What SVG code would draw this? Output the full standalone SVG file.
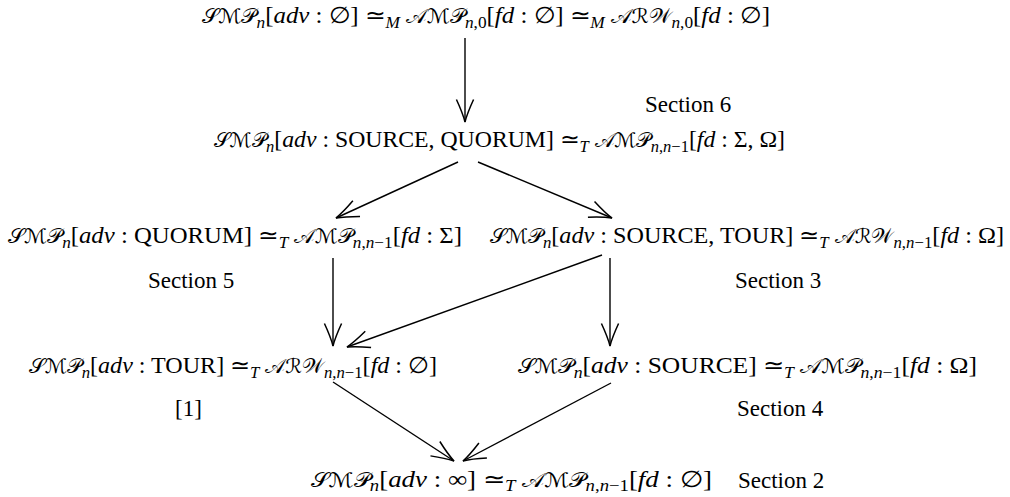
<svg xmlns="http://www.w3.org/2000/svg" width="1010" height="497" viewBox="0 0 1010 497">
<style>
.t{font-family:"Liberation Serif","Times New Roman",serif;font-size:23px;fill:#000}
.m{font-style:italic}
.c{font-family:"DejaVu Serif","DejaVu Sans",serif;font-style:normal;font-size:20px}
.s{font-size:16px}
.e{stroke:#000;stroke-width:1.4;fill:none}
</style>
<defs>
<marker id="ah" markerUnits="userSpaceOnUse" markerWidth="30" markerHeight="30" viewBox="-24 -12 28 24" refX="0" refY="0" orient="auto" overflow="visible">
<path d="M-21,-8 Q-8,-2 0,0 Q-8,2 -21,8" stroke="#000" stroke-width="1.4" fill="none"/>
</marker>
</defs>
<rect width="1010" height="497" fill="#fff"/>
<g id="connectors">
<line class="e" x1="465" y1="38" x2="465" y2="122" marker-end="url(#ah)"/>
<line class="e" x1="458" y1="162" x2="336" y2="218" marker-end="url(#ah)"/>
<line class="e" x1="478" y1="162" x2="612" y2="218" marker-end="url(#ah)"/>
<line class="e" x1="333" y1="258" x2="333" y2="346" marker-end="url(#ah)"/>
<line class="e" x1="610" y1="258" x2="610" y2="346" marker-end="url(#ah)"/>
<line class="e" x1="602" y1="255" x2="347" y2="347" marker-end="url(#ah)"/>
<line class="e" x1="333" y1="382" x2="454" y2="461" marker-end="url(#ah)"/>
<line class="e" x1="611" y1="383" x2="463" y2="461" marker-end="url(#ah)"/>
</g>
<g id="n1"><text class="t" x="202" y="23" textLength="568" lengthAdjust="spacingAndGlyphs"><tspan class="c">𝒮ℳ𝒫</tspan><tspan class="m s" dy="5">n</tspan><tspan dy="-5">[</tspan><tspan class="m">adv</tspan> : ∅] ≃<tspan class="m s" dy="5">M</tspan><tspan dy="-5"> </tspan><tspan class="c">𝒜ℳ𝒫</tspan><tspan class="m s" dy="5">n</tspan><tspan class="s">,0</tspan><tspan dy="-5">[</tspan><tspan class="m">fd</tspan> : ∅] ≃<tspan class="m s" dy="5">M</tspan><tspan dy="-5"> </tspan><tspan class="c">𝒜ℛ𝒲</tspan><tspan class="m s" dy="5">n</tspan><tspan class="s">,0</tspan><tspan dy="-5">[</tspan><tspan class="m">fd</tspan> : ∅]</text></g>
<g id="n2"><text class="t" x="214" y="147" textLength="571" lengthAdjust="spacingAndGlyphs"><tspan class="c">𝒮ℳ𝒫</tspan><tspan class="m s" dy="5">n</tspan><tspan dy="-5">[</tspan><tspan class="m">adv</tspan> : SOURCE, QUORUM] ≃<tspan class="m s" dy="5">T</tspan><tspan dy="-5"> </tspan><tspan class="c">𝒜ℳ𝒫</tspan><tspan class="m s" dy="5">n</tspan><tspan class="s">,</tspan><tspan class="m s">n</tspan><tspan class="s">−1</tspan><tspan dy="-5">[</tspan><tspan class="m">fd</tspan> : Σ,  Ω]</text><text class="t" x="645" y="112">Section 6</text></g>
<g id="n3"><text class="t" x="8" y="243" textLength="454" lengthAdjust="spacingAndGlyphs"><tspan class="c">𝒮ℳ𝒫</tspan><tspan class="m s" dy="5">n</tspan><tspan dy="-5">[</tspan><tspan class="m">adv</tspan> : QUORUM] ≃<tspan class="m s" dy="5">T</tspan><tspan dy="-5"> </tspan><tspan class="c">𝒜ℳ𝒫</tspan><tspan class="m s" dy="5">n</tspan><tspan class="s">,</tspan><tspan class="m s">n</tspan><tspan class="s">−1</tspan><tspan dy="-5">[</tspan><tspan class="m">fd</tspan> : Σ]</text><text class="t" x="148" y="288">Section 5</text></g>
<g id="n4"><text class="t" x="490" y="243" textLength="514" lengthAdjust="spacingAndGlyphs"><tspan class="c">𝒮ℳ𝒫</tspan><tspan class="m s" dy="5">n</tspan><tspan dy="-5">[</tspan><tspan class="m">adv</tspan> : SOURCE, TOUR] ≃<tspan class="m s" dy="5">T</tspan><tspan dy="-5"> </tspan><tspan class="c">𝒜ℛ𝒲</tspan><tspan class="m s" dy="5">n</tspan><tspan class="s">,</tspan><tspan class="m s">n</tspan><tspan class="s">−1</tspan><tspan dy="-5">[</tspan><tspan class="m">fd</tspan> : Ω]</text><text class="t" x="735" y="288">Section 3</text></g>
<g id="n5"><text class="t" x="29" y="373" textLength="408" lengthAdjust="spacingAndGlyphs"><tspan class="c">𝒮ℳ𝒫</tspan><tspan class="m s" dy="5">n</tspan><tspan dy="-5">[</tspan><tspan class="m">adv</tspan> : TOUR] ≃<tspan class="m s" dy="5">T</tspan><tspan dy="-5"> </tspan><tspan class="c">𝒜ℛ𝒲</tspan><tspan class="m s" dy="5">n</tspan><tspan class="s">,</tspan><tspan class="m s">n</tspan><tspan class="s">−1</tspan><tspan dy="-5">[</tspan><tspan class="m">fd</tspan> : ∅]</text><text class="t" x="175" y="416">[1]</text></g>
<g id="n6"><text class="t" x="518" y="373" textLength="459" lengthAdjust="spacingAndGlyphs"><tspan class="c">𝒮ℳ𝒫</tspan><tspan class="m s" dy="5">n</tspan><tspan dy="-5">[</tspan><tspan class="m">adv</tspan> : SOURCE] ≃<tspan class="m s" dy="5">T</tspan><tspan dy="-5"> </tspan><tspan class="c">𝒜ℳ𝒫</tspan><tspan class="m s" dy="5">n</tspan><tspan class="s">,</tspan><tspan class="m s">n</tspan><tspan class="s">−1</tspan><tspan dy="-5">[</tspan><tspan class="m">fd</tspan> : Ω]</text><text class="t" x="737" y="416">Section 4</text></g>
<g id="n7"><text class="t" x="311" y="487" textLength="401" lengthAdjust="spacingAndGlyphs"><tspan class="c">𝒮ℳ𝒫</tspan><tspan class="m s" dy="4">n</tspan><tspan dy="-4">[</tspan><tspan class="m">adv</tspan> : ∞] ≃<tspan class="m s" dy="4">T</tspan><tspan dy="-4"> </tspan><tspan class="c">𝒜ℳ𝒫</tspan><tspan class="m s" dy="4">n</tspan><tspan class="s">,</tspan><tspan class="m s">n</tspan><tspan class="s">−1</tspan><tspan dy="-4">[</tspan><tspan class="m">fd</tspan> : ∅]</text><text class="t" x="738" y="488">Section 2</text></g>
</svg>
